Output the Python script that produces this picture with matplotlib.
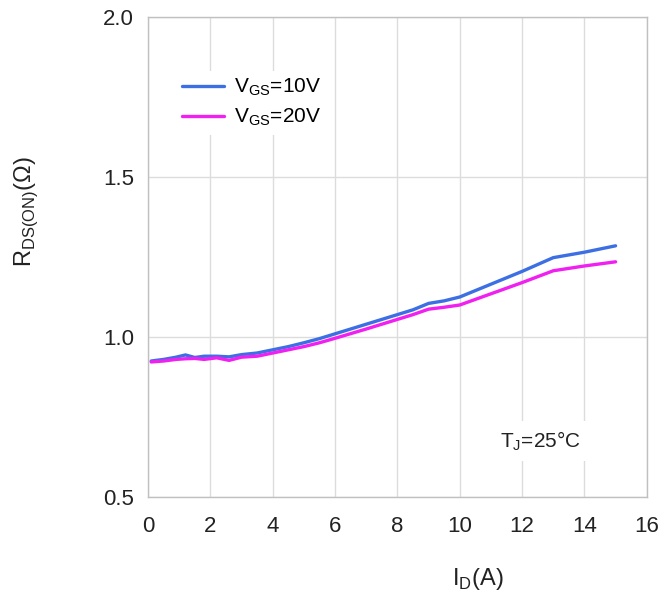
import matplotlib
matplotlib.use("Agg")
import matplotlib.pyplot as plt

plt.rcParams['font.family'] = ['Liberation Sans', 'DejaVu Sans']
plt.rcParams['mathtext.fontset'] = 'custom'
plt.rcParams['mathtext.rm'] = 'Liberation Sans'

id_a = [0.1, 0.5, 0.9, 1.2, 1.5, 1.8, 2.2, 2.6, 3.0, 3.5, 4.0, 4.5, 5.0, 5.5, 6.0,
        7.0, 8.0, 8.5, 9.0, 9.5, 10.0, 11.0, 12.0, 13.0, 14.0, 15.0]
r_vgs10 = [0.925, 0.930, 0.937, 0.944, 0.936, 0.940, 0.940, 0.938, 0.945, 0.950, 0.960,
           0.970, 0.982, 0.995, 1.010, 1.040, 1.070, 1.085, 1.105, 1.113, 1.125, 1.165,
           1.205, 1.248, 1.265, 1.285]
r_vgs20 = [0.922, 0.925, 0.930, 0.932, 0.933, 0.930, 0.935, 0.927, 0.937, 0.940, 0.950,
           0.960, 0.970, 0.982, 0.996, 1.025, 1.055, 1.070, 1.087, 1.093, 1.100, 1.135,
           1.170, 1.207, 1.222, 1.235]
labels = [r'V$_{\mathregular{GS}}$=10V', r'V$_{\mathregular{GS}}$=20V']
colors = ['#3c6fe4', '#f020f0']
x_ticks = [0, 2, 4, 6, 8, 10, 12, 14, 16]
y_ticks = [0.5, 1.0, 1.5, 2.0]

fig = plt.figure(figsize=(6.64, 5.97), dpi=100)
ax = fig.add_axes([0.223, 0.1675, 0.751, 0.804])

ax.plot(id_a, r_vgs10, color=colors[0], lw=2.4, label=labels[0], solid_capstyle='round')
ax.plot(id_a, r_vgs20, color=colors[1], lw=2.4, label=labels[1], solid_capstyle='round')

ax.set_xlim(0, 16)
ax.set_ylim(0.5, 2.0)
ax.set_xticks(x_ticks)
ax.set_yticks(y_ticks)
ax.set_xticklabels([str(v) for v in x_ticks])
ax.set_yticklabels([f'{v:.1f}' for v in y_ticks])
ax.tick_params(length=0, labelsize=16, colors='#222222')
ax.tick_params(axis='x', pad=14)
ax.tick_params(axis='y', pad=10)
ax.grid(True, color='#dcdcdc', lw=1.0)
for s in ax.spines.values():
    s.set_color('#c0c0c0')
    s.set_linewidth(1.0)

leg = ax.legend(loc='upper left', bbox_to_anchor=(0.035, 0.91), frameon=True,
                fontsize=15, handlelength=2.0, handletextpad=0.5, labelspacing=0.4,
                borderpad=0.3)
leg.get_frame().set_edgecolor('none')
leg.get_frame().set_facecolor('white')
leg.get_frame().set_alpha(1)

ax.text(11.3, 0.675, r'T$_{\mathregular{J}}$=25°C', fontsize=15, color='#222222',
        va='center', ha='left', bbox=dict(facecolor='white', edgecolor='none', pad=6))

fig.text(0.72, 0.03, r'I$_{\mathregular{D}}$(A)', fontsize=17, ha='center', va='center',
         color='#222222')
fig.text(0.04, 0.645, r'R$_{\mathregular{DS(ON)}}$($\Omega$)', fontsize=17, ha='center',
         va='center', rotation=90, color='#222222')

fig.savefig('out.png', dpi=100)
